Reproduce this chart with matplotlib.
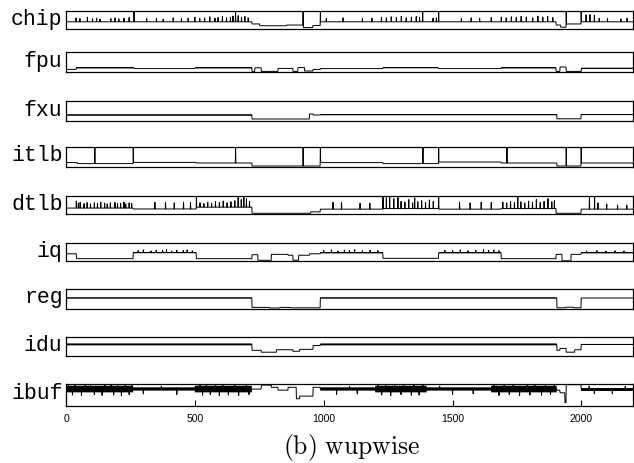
import numpy as np
import matplotlib
matplotlib.use('Agg')
import matplotlib.pyplot as plt

plt.rcParams['mathtext.fontset'] = 'cm'

N = 2200
t = np.arange(N)

names = ['chip', 'fpu', 'fxu', 'itlb', 'dtlb', 'iq', 'reg', 'idu', 'ibuf']
ticks = [0, 500, 1000, 1500, 2000]

# --- chip ---
chip_breaks = [0, 722, 752, 856, 920, 958, 987, 1902, 1920, 1941, 1999]
chip_levels = [0.40, 0.28, 0.18, 0.22, 0.08, 0.19, 0.40, 0.22, 0.10, 0.28, 0.40]
chip_spike_x = [264, 658, 920, 987, 1384, 1446, 1941, 1999,
                39, 54, 83, 103, 119, 132, 174, 190, 205, 225, 245,
                313, 351, 377, 416, 448, 474, 500, 519, 538, 558, 578, 590,
                607, 623, 638, 648, 668, 681, 694, 707,
                1010, 1075, 1150, 1187, 1224, 1243, 1262, 1282, 1301, 1320,
                1340, 1359, 1372, 1424, 1437, 1534, 1572, 1605, 1650, 1689,
                1708, 1728, 1747, 1766, 1786, 1811, 1831, 1850, 1869, 1889,
                2018, 2033, 2050, 2069, 2101, 2153, 2177]
chip_spike_h = [1.0, 1.0, 1.0, 1.0, 1.0, 1.0, 1.0, 1.0,
                0.62, 0.58, 0.66, 0.57, 0.60, 0.55, 0.58, 0.62, 0.56, 0.60, 0.64,
                0.58, 0.60, 0.55, 0.62, 0.58, 0.60, 0.66, 0.58, 0.62, 0.68, 0.60, 0.64,
                0.70, 0.62, 0.66, 0.72, 0.74, 0.66, 0.70, 0.62,
                0.58, 0.62, 0.58, 0.60, 0.66, 0.62, 0.68, 0.64, 0.70, 0.62,
                0.66, 0.70, 0.64, 0.60, 0.62, 0.58, 0.62, 0.60, 0.64, 0.66,
                0.62, 0.68, 0.64, 0.70, 0.66, 0.62, 0.72, 0.66, 0.70, 0.64,
                0.78, 0.80, 0.76, 0.60, 0.58, 0.56, 0.60]
chip_bands = []

# --- fpu ---
fpu_breaks = [0, 40, 265, 500, 722, 733, 758, 823, 881, 900, 926, 959, 987,
              1230, 1446, 1689, 1902, 1917, 1941, 2000]
fpu_levels = [0.13, 0.20, 0.17, 0.20, 0.03, 0.21, 0.03, 0.18, 0.03, 0.22, 0.05, 0.13, 0.17,
              0.21, 0.17, 0.20, 0.03, 0.25, 0.03, 0.19]
fpu_spike_x = []
fpu_spike_h = []
fpu_bands = [(40, 265, 0.18, 0.23), (500, 722, 0.18, 0.23),
             (1230, 1446, 0.19, 0.24), (1689, 1902, 0.18, 0.23), (2000, 2200, 0.17, 0.21)]

# --- fxu ---
fxu_breaks = [0, 722, 945, 960, 987, 1905, 1999]
fxu_levels = [0.30, 0.10, 0.35, 0.30, 0.32, 0.11, 0.32]
fxu_spike_x = []
fxu_spike_h = []
fxu_bands = [(0, 722, 0.27, 0.33), (987, 1905, 0.29, 0.35), (1999, 2200, 0.29, 0.35)]

# --- itlb ---
itlb_breaks = [0, 45, 261, 506, 722, 987, 1230, 1446, 1689, 1711, 1905, 1999]
itlb_levels = [0.22, 0.17, 0.23, 0.20, 0.05, 0.22, 0.17, 0.25, 0.20, 0.20, 0.05, 0.20]
itlb_spike_x = [112, 261, 658, 920, 987, 1385, 1446, 1711, 1941, 1999]
itlb_spike_h = [1.0] * 10
itlb_bands = []

# --- dtlb ---
dtlb_breaks = [0, 261, 506, 722, 950, 987, 1230, 1446, 1689, 1902, 1999]
dtlb_levels = [0.33, 0.28, 0.38, 0.04, 0.12, 0.27, 0.30, 0.27, 0.30, 0.04, 0.27]
dtlb_spike_x = [40, 48, 55, 70, 82, 95, 110, 122, 135, 150, 160, 172, 190, 200, 212, 225, 232, 245, 255,
                345, 386, 420, 456, 483,
                506, 520, 535, 550, 565, 580, 595, 610, 625, 640, 655, 668, 680, 690, 700, 712,
                1036, 1069, 1141, 1179,
                1230, 1243, 1256, 1272, 1288, 1300, 1315, 1330, 1345, 1353, 1365, 1380, 1395, 1410, 1425, 1446,
                1527, 1568, 1611, 1650,
                1695, 1710, 1725, 1740, 1753, 1765, 1780, 1795, 1810, 1825, 1840, 1855, 1870, 1885, 1895,
                2031, 2051, 2064, 2098, 2140, 2176]
dtlb_spike_h = [0.72, 0.60, 0.66, 0.58, 0.64, 0.56, 0.62, 0.58, 0.66, 0.60, 0.56, 0.62, 0.64, 0.58, 0.60, 0.66, 0.56, 0.62, 0.58,
                0.65, 0.65, 0.62, 0.66, 0.64,
                0.95, 0.62, 0.58, 0.66, 0.60, 0.70, 0.64, 0.72, 0.62, 0.68, 0.74, 0.92, 0.80, 0.95, 0.85, 0.70,
                0.65, 0.65, 0.60, 0.60,
                0.95, 0.90, 0.95, 0.85, 0.92, 0.70, 0.66, 0.80, 0.62, 0.90, 0.68, 0.74, 0.64, 0.78, 0.70, 1.0,
                0.65, 0.62, 0.66, 0.64,
                0.66, 0.62, 0.70, 0.64, 0.95, 0.68, 0.62, 0.72, 0.66, 0.80, 0.64, 0.70, 0.85, 0.68, 0.74,
                1.0, 1.0, 0.62, 0.55, 0.50, 0.50]
dtlb_bands = []

# --- iq ---
iq_breaks = [0, 41, 261, 506, 722, 745, 797, 862, 881, 903, 945, 987,
             1230, 1446, 1689, 1902, 1925, 1960, 1999]
iq_levels = [0.40, 0.13, 0.46, 0.13, 0.35, 0.04, 0.37, 0.32, 0.04, 0.32, 0.40, 0.45,
             0.15, 0.45, 0.13, 0.37, 0.01, 0.37, 0.45]
iq_spike_x = [280, 300, 330, 350, 375, 390, 410, 430, 455, 470, 490,
              1000, 1030, 1055, 1080, 1100, 1120, 1150, 1180, 1210,
              1470, 1500, 1530, 1560, 1590, 1620, 1640, 1660, 1680,
              2020, 2060, 2095, 2130, 2165]
iq_spike_h = [0.58, 0.62, 0.56, 0.60, 0.58, 0.63, 0.56, 0.60, 0.58, 0.62, 0.57,
              0.58, 0.62, 0.56, 0.61, 0.58, 0.63, 0.57, 0.60, 0.58,
              0.60, 0.58, 0.62, 0.57, 0.60, 0.63, 0.58, 0.61, 0.57,
              0.56, 0.58, 0.55, 0.57, 0.56]
iq_bands = [(261, 506, 0.42, 0.51), (987, 1230, 0.42, 0.51), (1446, 1689, 0.42, 0.51), (1999, 2200, 0.43, 0.49)]

# --- reg ---
reg_breaks = [0, 722, 790, 830, 870, 987, 1905, 1940, 1970, 1999]
reg_levels = [0.55, 0.08, 0.05, 0.08, 0.06, 0.55, 0.06, 0.09, 0.06, 0.55]
reg_spike_x = []
reg_spike_h = []
reg_bands = [(0, 722, 0.53, 0.58), (987, 1905, 0.53, 0.58), (1999, 2200, 0.53, 0.57)]

# --- idu ---
idu_breaks = [0, 722, 758, 817, 881, 907, 959, 987, 1905, 1917, 1941, 1974, 1999]
idu_levels = [0.61, 0.30, 0.20, 0.33, 0.25, 0.35, 0.55, 0.61, 0.30, 0.40, 0.20, 0.33, 0.61]
idu_spike_x = []
idu_spike_h = []
idu_bands = [(0, 722, 0.56, 0.66), (987, 1905, 0.56, 0.66), (1999, 2200, 0.57, 0.65)]

# --- ibuf ---
ibuf_breaks = [0, 758, 797, 823, 862, 894, 907, 959, 987, 1905, 1917, 1936, 1941, 1999]
ibuf_levels = [0.77, 0.95, 0.85, 0.72, 0.85, 0.33, 0.45, 0.85, 0.77, 0.72, 0.60, 0.15, 0.97, 0.77]
ibuf_spike_x = [10, 35, 75, 95, 150, 175, 200, 230, 255, 520, 545, 580, 610, 655, 700,
                1210, 1240, 1275, 1310, 1350, 1385, 1660, 1700, 1735, 1790, 1820, 1860, 1895,
                25, 60, 110, 140, 185, 215, 245, 530, 560, 595, 630, 670, 710,
                1225, 1260, 1300, 1340, 1370, 1680, 1720, 1760, 1800, 1845, 1880,
                300, 370, 430, 1050, 1100, 1130, 1450, 1500, 1580, 2030, 2050, 2120, 2170]
ibuf_spike_h = [0.97, 0.95, 0.98, 0.94, 0.97, 0.95, 0.98, 0.96, 0.97, 0.95, 0.98, 0.96, 0.97, 0.94, 0.98,
                0.96, 0.98, 0.95, 0.97, 0.96, 0.98, 0.95, 0.97, 0.96, 0.98, 0.95, 0.97, 0.96,
                0.50, 0.47, 0.52, 0.48, 0.50, 0.46, 0.52, 0.49, 0.52, 0.47, 0.50, 0.48, 0.52,
                0.50, 0.47, 0.52, 0.49, 0.50, 0.48, 0.52, 0.47, 0.50, 0.49, 0.52,
                0.55, 0.90, 0.52, 0.52, 0.90, 0.55, 0.90, 0.52, 0.55, 0.90, 0.55, 0.55, 0.90]
ibuf_bands = [(0, 261, 0.62, 0.92), (261, 500, 0.70, 0.85), (500, 722, 0.62, 0.92),
              (987, 1200, 0.70, 0.85), (1200, 1400, 0.62, 0.92), (1400, 1650, 0.70, 0.85),
              (1650, 1905, 0.62, 0.92), (1999, 2200, 0.70, 0.84)]

panels = {
    'chip': (chip_breaks, chip_levels, chip_spike_x, chip_spike_h, chip_bands),
    'fpu': (fpu_breaks, fpu_levels, fpu_spike_x, fpu_spike_h, fpu_bands),
    'fxu': (fxu_breaks, fxu_levels, fxu_spike_x, fxu_spike_h, fxu_bands),
    'itlb': (itlb_breaks, itlb_levels, itlb_spike_x, itlb_spike_h, itlb_bands),
    'dtlb': (dtlb_breaks, dtlb_levels, dtlb_spike_x, dtlb_spike_h, dtlb_bands),
    'iq': (iq_breaks, iq_levels, iq_spike_x, iq_spike_h, iq_bands),
    'reg': (reg_breaks, reg_levels, reg_spike_x, reg_spike_h, reg_bands),
    'idu': (idu_breaks, idu_levels, idu_spike_x, idu_spike_h, idu_bands),
    'ibuf': (ibuf_breaks, ibuf_levels, ibuf_spike_x, ibuf_spike_h, ibuf_bands),
}


def build(breaks, levels, sx, sh):
    y = np.repeat(np.array(levels, float), np.diff(list(breaks) + [N]))
    if sx:
        y[np.array(sx)] = sh
    return y


def band(spans):
    lo = np.full(N, np.nan)
    hi = np.full(N, np.nan)
    for s, e, l, h in spans:
        lo[s:e] = l
        hi[s:e] = h
    return lo, hi


W, H = 634, 464
fig = plt.figure(figsize=(W / 100, H / 100), dpi=100)

tops = [12, 53, 102, 148, 197, 244, 290, 338, 385]
bottoms = [30, 73, 122, 168, 215, 262, 310, 357, 407]
left, right = 66, 633

for i, name in enumerate(names):
    breaks, levels, sx, sh, spans = panels[name]
    ax = fig.add_axes([left / W, 1 - bottoms[i] / H, (right - left) / W, (bottoms[i] - tops[i]) / H])
    y = build(breaks, levels, sx, sh)
    if spans:
        lo, hi = band(spans)
        ax.fill_between(t, lo, hi, color='k', lw=0, step='mid')
    ax.plot(t, y, color='k', lw=0.7)
    ax.set_xlim(0, N)
    ax.set_ylim(0, 1)
    ax.set_yticks([])
    for sp in ax.spines.values():
        sp.set_linewidth(0.9)
    ax.text(-0.006, 0.6, name, transform=ax.transAxes, ha='right', va='center',
            family='Liberation Mono', fontsize=15.5)
    if i == len(names) - 1:
        ax.set_xticks(ticks)
        ax.set_xticklabels([str(v) for v in ticks], family='Liberation Sans', fontsize=7.5)
        ax.tick_params(axis='x', direction='in', length=4, width=0.8, pad=5)
    else:
        ax.set_xticks([])

fig.text(352 / W, 1 - 448 / H, r'$\mathrm{(b)\ wupwise}$', ha='center', va='center', fontsize=18.5)

fig.savefig('out.png', dpi=100)
